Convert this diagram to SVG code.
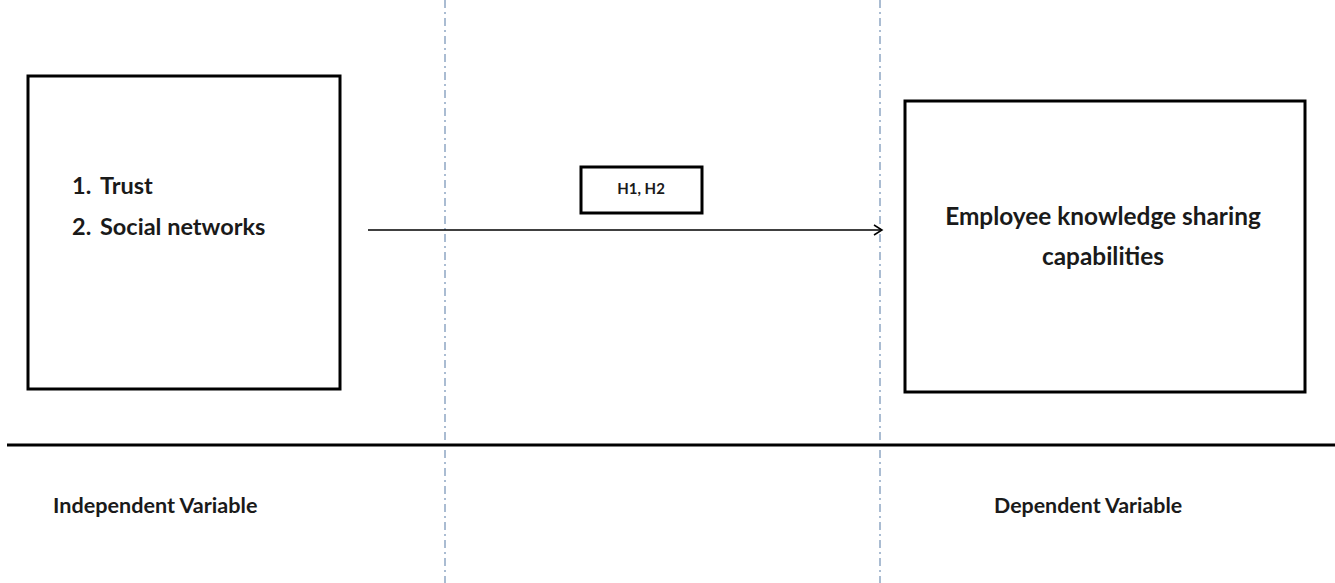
<svg xmlns="http://www.w3.org/2000/svg" width="1335" height="583" viewBox="0 0 1335 583">
<defs>
<style>
.box{fill:#fff;stroke:#000;stroke-width:3}
.t{font-family:Lato,"Liberation Sans",sans-serif;font-weight:bold;fill:#1a1a1a}
.guide{stroke:#8fa6c4;stroke-width:1.5;stroke-dasharray:8 4 2 4;fill:none}
</style>
<marker id="arr" markerWidth="12" markerHeight="12" refX="10" refY="6" orient="auto" markerUnits="userSpaceOnUse">
<path d="M2,1 L10,6 L2,11" fill="none" stroke="#000" stroke-width="1.5"/>
</marker>
</defs>
<rect width="1335" height="583" fill="#fff"/>
<g id="guides">
<line class="guide" x1="445" y1="0" x2="445" y2="583"/>
<line class="guide" x1="880" y1="0" x2="880" y2="583"/>
</g>
<g id="baseline">
<line x1="7" y1="445" x2="1335" y2="445" stroke="#000" stroke-width="3"/>
</g>
<g id="independent">
<rect class="box" x="28" y="76" width="312" height="313"/>
<text class="t" y="194" font-size="23.5"><tspan x="72">1.</tspan><tspan x="100">Trust</tspan></text>
<text class="t" y="235" font-size="23.5"><tspan x="72">2.</tspan><tspan x="100">Social networks</tspan></text>
</g>
<g id="hypothesis">
<rect class="box" x="581" y="167" width="121" height="46" stroke-width="2.5"/>
<text class="t" x="641" y="194" font-size="15" text-anchor="middle">H1, H2</text>
</g>
<g id="dependent">
<rect class="box" x="905" y="101" width="400" height="291"/>
<text class="t" x="1103" y="225" font-size="24.4" text-anchor="middle">Employee knowledge sharing</text>
<text class="t" x="1103" y="265" font-size="24.4" text-anchor="middle">capabilities</text>
</g>
<g id="connectors">
<line x1="368" y1="230" x2="882" y2="230" stroke="#000" stroke-width="1.5" marker-end="url(#arr)"/>
</g>
<g id="labels">
<text class="t" x="53" y="513" font-size="21.6">Independent Variable</text>
<text class="t" x="994" y="513" font-size="21.4">Dependent Variable</text>
</g>
</svg>
